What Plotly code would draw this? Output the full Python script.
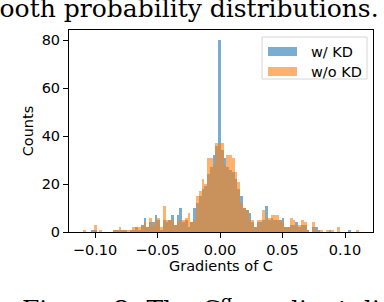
import numpy as np
import plotly.graph_objects as go

# ---- data ----
bin_start = -0.1098
bin_width = 0.00221
w_kd = [0, 0, 0, 1, 1, 0, 0, 0, 0, 0,
        0, 1, 1, 1, 1, 1, 0, 1, 1, 2,
        1, 3, 6, 2, 4, 4, 7, 5, 1, 5,
        4, 5, 7, 3, 7, 10, 4, 5, 2, 4,
        10, 12, 15, 18, 19, 24, 27, 32, 36, 80,
        34, 31, 27, 26, 25, 22, 18, 15, 10, 9,
        8, 4, 2, 4, 4, 5, 11, 5, 6, 5,
        5, 5, 6, 2, 2, 3, 3, 4, 2, 3,
        3, 1, 0, 2, 2, 1, 0, 0, 0, 1,
        0, 0, 0, 0, 0, 0, 1, 0, 0, 0]
wo_kd = [1, 0, 0, 0, 3, 0, 1, 0, 0, 0,
         0, 1, 1, 2, 1, 1, 1, 1, 2, 2,
         2, 3, 4, 2, 6, 3, 5, 6, 2, 11,
         5, 5, 5, 3, 4, 5, 5, 6, 8, 4,
         5, 15, 17, 22, 20, 31, 31, 28, 37, 37,
         37, 28, 32, 32, 31, 25, 21, 12, 10, 9,
         5, 5, 2, 5, 5, 9, 6, 6, 7, 7,
         7, 5, 4, 2, 2, 6, 5, 3, 3, 5,
         4, 1, 0, 4, 1, 1, 1, 0, 1, 0,
         1, 0, 2, 0, 0, 0, 0, 0, 0, 1]
series_names = ["w/ KD", "w/o KD"]
x_ticks = [-0.10, -0.05, 0.00, 0.05, 0.10]
x_tick_labels = ["\u22120.10", "\u22120.05", "0.00", "0.05", "0.10"]
y_ticks = [0, 20, 40, 60, 80]

centers = bin_start + bin_width * (np.arange(len(w_kd)) + 0.5)

C0 = "#1f77b4"
C1 = "#ff7f0e"

fig = go.Figure()
fig.add_trace(go.Bar(x=centers, y=w_kd, width=bin_width, name=series_names[0],
                     marker=dict(color=C0, line=dict(width=0)), opacity=0.6))
fig.add_trace(go.Bar(x=centers, y=wo_kd, width=bin_width, name=series_names[1],
                     marker=dict(color=C1, line=dict(width=0)), opacity=0.6))

L, R, T, B = 69, 373, 30, 232
W, H = 384, 302
pw, ph = R - L, B - T

def px(x):
    return (x - L) / pw

def py(y):
    return (B - y) / ph

tickfont = dict(family="DejaVu Sans", size=14.5, color="black")

fig.update_layout(
    width=W, height=H,
    margin=dict(l=L, r=W - R, t=T, b=H - B, pad=0),
    paper_bgcolor="white", plot_bgcolor="white",
    barmode="overlay", bargap=0, showlegend=False,
    font=tickfont,
)
fig.update_xaxes(range=[-0.1208, 0.1224], tickvals=x_ticks, ticktext=x_tick_labels,
                 ticks="outside", ticklen=5, tickwidth=1, tickcolor="black",
                 showline=True, linecolor="black", linewidth=1, mirror=True,
                 showgrid=False, zeroline=False, tickfont=tickfont, automargin=False,
                 title=dict(text="Gradients of C", font=tickfont, standoff=2))
fig.update_yaxes(range=[0, 84.2], tickvals=y_ticks,
                 ticks="outside", ticklen=5, tickwidth=1, tickcolor="black",
                 showline=True, linecolor="black", linewidth=1, mirror=True,
                 showgrid=False, zeroline=False, tickfont=tickfont, automargin=False,
                 title=dict(text="Counts", font=tickfont, standoff=4))

# legend (drawn manually to mimic the reference box)
shapes = [dict(type="rect", xref="paper", yref="paper",
               x0=px(262), x1=px(367), y0=py(79), y1=py(37),
               line=dict(color="#d6d6d6", width=1), fillcolor="rgba(255,255,255,0.8)")]
annotations = []
for name, col, yc in [(series_names[0], C0, 51.5), (series_names[1], C1, 71.5)]:
    shapes.append(dict(type="rect", xref="paper", yref="paper",
                       x0=px(268), x1=px(297), y0=py(yc + 4.5), y1=py(yc - 4.5),
                       line=dict(width=0), fillcolor=col, opacity=0.6))
    annotations.append(dict(text=name, xref="paper", yref="paper", x=px(309), y=py(yc),
                            xanchor="left", yanchor="middle", showarrow=False, font=tickfont))

serif = dict(family="DejaVu Serif", size=25, color="black")
annotations.append(dict(text="smooth probability distributions.", xref="paper", yref="paper",
                        x=px(381), y=py(8.5), xanchor="right", yanchor="middle",
                        showarrow=False, font=serif))
annotations.append(dict(text="Figure 2: The C<sup>g</sup> gradient distributions", xref="paper",
                        yref="paper", x=px(20), y=py(307), xanchor="left", yanchor="middle",
                        showarrow=False, font=serif))

fig.update_layout(shapes=shapes, annotations=annotations)
fig.write_html("out.html", config={"displayModeBar": False},
               post_script="document.body.style.margin='0';")
